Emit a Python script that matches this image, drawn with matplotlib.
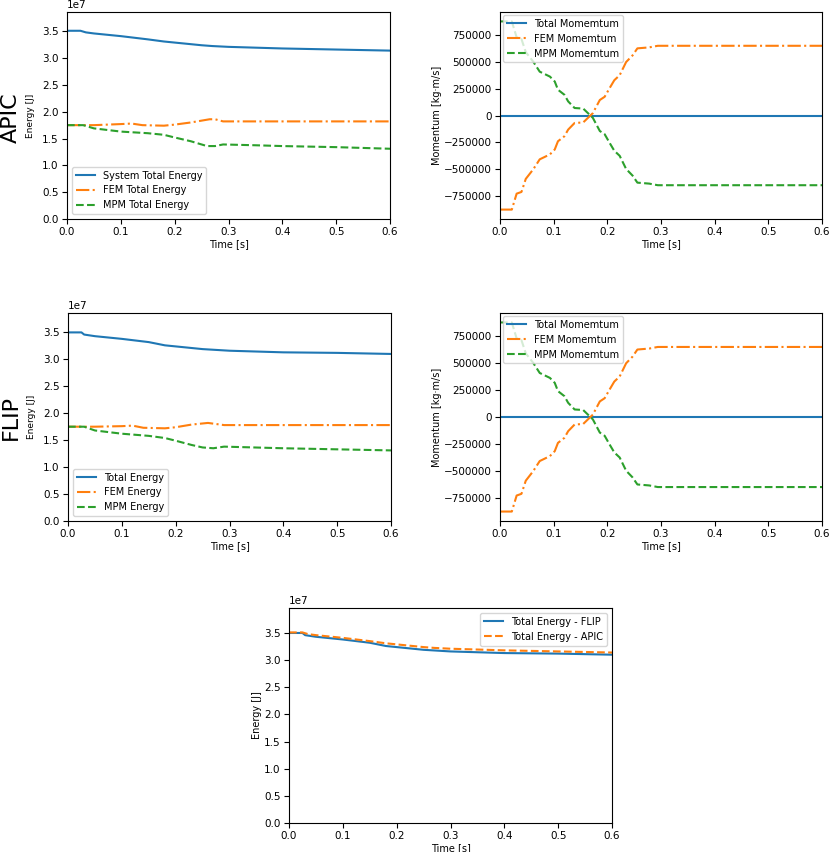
import numpy as np
import matplotlib
matplotlib.use('agg')
import matplotlib.pyplot as plt

plt.rcParams['font.size'] = 7.5
plt.rcParams['legend.fontsize'] = 7
plt.rcParams['xtick.major.pad'] = 2.5
plt.rcParams['ytick.major.pad'] = 2.5
plt.rcParams['axes.labelpad'] = 1.5

############### energy (J) - APIC
t_apic_sys = [0.0, 0.025, 0.035, 0.05, 0.1, 0.15, 0.18, 0.2, 0.25, 0.27, 0.3, 0.4, 0.5, 0.6]
e_apic_sys = [3.51e7, 3.51e7, 3.48e7, 3.46e7, 3.41e7, 3.35e7, 3.31e7, 3.29e7, 3.24e7, 3.225e7, 3.21e7, 3.18e7, 3.16e7, 3.14e7]

t_apic_fem = [0.0, 0.05, 0.1, 0.12, 0.14, 0.18, 0.2, 0.23, 0.265, 0.275, 0.29, 0.4, 0.6]
e_apic_fem = [1.75e7, 1.75e7, 1.77e7, 1.78e7, 1.75e7, 1.74e7, 1.76e7, 1.80e7, 1.86e7, 1.86e7, 1.82e7, 1.82e7, 1.82e7]

t_apic_mpm = [0.0, 0.03, 0.05, 0.1, 0.15, 0.18, 0.2, 0.23, 0.25, 0.26, 0.275, 0.29, 0.35, 0.4, 0.5, 0.6]
e_apic_mpm = [1.75e7, 1.75e7, 1.69e7, 1.63e7, 1.60e7, 1.57e7, 1.52e7, 1.45e7, 1.39e7, 1.36e7, 1.36e7, 1.39e7, 1.375e7, 1.36e7, 1.34e7, 1.31e7]

############### energy (J) - FLIP
t_flip_sys = [0.0, 0.025, 0.03, 0.05, 0.1, 0.15, 0.18, 0.2, 0.25, 0.3, 0.4, 0.5, 0.6]
e_flip_sys = [3.50e7, 3.50e7, 3.46e7, 3.43e7, 3.38e7, 3.32e7, 3.26e7, 3.24e7, 3.19e7, 3.16e7, 3.13e7, 3.12e7, 3.10e7]

t_flip_fem = [0.0, 0.05, 0.1, 0.12, 0.14, 0.18, 0.2, 0.23, 0.26, 0.29, 0.4, 0.6]
e_flip_fem = [1.75e7, 1.75e7, 1.76e7, 1.77e7, 1.73e7, 1.72e7, 1.74e7, 1.79e7, 1.82e7, 1.78e7, 1.78e7, 1.78e7]

t_flip_mpm = [0.0, 0.03, 0.05, 0.1, 0.15, 0.18, 0.2, 0.23, 0.25, 0.27, 0.29, 0.4, 0.5, 0.6]
e_flip_mpm = [1.75e7, 1.75e7, 1.68e7, 1.62e7, 1.58e7, 1.54e7, 1.49e7, 1.41e7, 1.365e7, 1.35e7, 1.38e7, 1.35e7, 1.33e7, 1.31e7]

############### momentum (kg m/s)
t_mom = [0.0, 0.022, 0.031, 0.04, 0.048, 0.062, 0.074, 0.093, 0.102, 0.108, 0.12, 0.127, 0.139,
         0.155, 0.173, 0.186, 0.195, 0.204, 0.213, 0.223, 0.235, 0.247, 0.256, 0.278, 0.294, 0.6]
p_mpm = [880000, 880000, 731000, 715000, 593000, 503000, 410000, 364000, 318000, 241000, 194000, 132000, 70000,
         65000, -22000, -145000, -175000, -254000, -330000, -377000, -500000, -562000, -628000, -637000, -652000, -652000]
p_fem = [-880000, -880000, -731000, -715000, -593000, -503000, -410000, -364000, -318000, -241000, -194000, -132000, -70000,
         -65000, 22000, 145000, 175000, 254000, 330000, 377000, 500000, 562000, 628000, 637000, 652000, 652000]
t_tot = [0.0, 0.6]
p_tot = [0, 0]

#########################################################################

W, H = 830.0, 852.0
fig = plt.figure(figsize=(W / 100, H / 100), dpi=100)

def box(x0, y0, x1, y1):
    return [x0 / W, 1 - y1 / H, (x1 - x0) / W, (y1 - y0) / H]

ax1 = fig.add_axes(box(67, 12, 390, 219))
ax2 = fig.add_axes(box(500, 12, 822, 219))
ax3 = fig.add_axes(box(68, 313, 391, 521))
ax4 = fig.add_axes(box(500, 313, 822, 521))
ax5 = fig.add_axes(box(289, 608, 612, 823))

# energy panels
ax1.plot(t_apic_sys, e_apic_sys, '-', label='System Total Energy')
ax1.plot(t_apic_fem, e_apic_fem, '-.', label='FEM Total Energy')
ax1.plot(t_apic_mpm, e_apic_mpm, '--', label='MPM Total Energy')

ax3.plot(t_flip_sys, e_flip_sys, '-', label='Total Energy')
ax3.plot(t_flip_fem, e_flip_fem, '-.', label='FEM Energy')
ax3.plot(t_flip_mpm, e_flip_mpm, '--', label='MPM Energy')

for ax in [ax1, ax3]:
    ax.set_xlim(0, 0.6)
    ax.set_ylim(0, 3.86e7)
    ax.set_ylabel('Energy [J]', fontsize=6.5, labelpad=5)
    ax.set_xlabel('Time [s]', fontsize=7)
    ax.legend(loc='lower left')

# momentum panels
for ax in [ax2, ax4]:
    ax.plot(t_tot, p_tot, '-', label='Total Momemtum')
    ax.plot(t_mom, p_fem, '-.', label='FEM Momemtum')
    ax.plot(t_mom, p_mpm, '--', label='MPM Momemtum')
    ax.set_xlim(0, 0.6)
    ax.set_ylabel('Momentum [kg·m/s]', fontsize=7)
    ax.set_xlabel('Time [s]', fontsize=7)
    ax.legend(loc='upper left', borderaxespad=0.3)

# comparison
ax5.plot(t_flip_sys, e_flip_sys, '-', label='Total Energy - FLIP')
ax5.plot(t_apic_sys, e_apic_sys, '--', label='Total Energy - APIC')
ax5.set_xlim(0, 0.6)
ax5.set_ylim(0, 3.96e7)
ax5.set_ylabel('Energy [J]', fontsize=7)
ax5.set_xlabel('Time [s]', fontsize=7)
ax5.legend(loc='upper right')

fig.text(11 / W, 1 - 118 / H, 'APIC', rotation=90, fontsize=16, ha='center', va='center')
fig.text(11 / W, 1 - 418 / H, 'FLIP', rotation=90, fontsize=16, ha='center', va='center')

fig.savefig('out.png', dpi=100)
